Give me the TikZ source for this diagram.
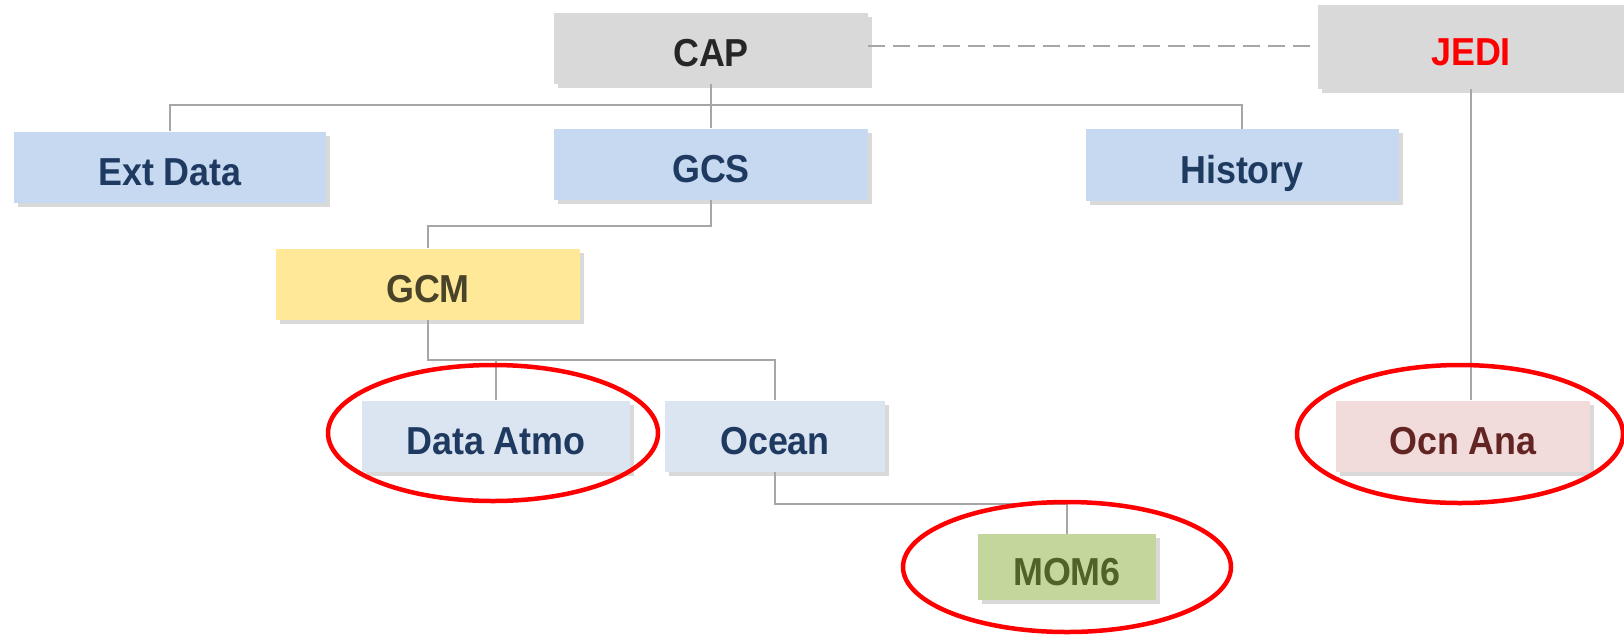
\documentclass[tikz,border=0pt]{standalone}
\usepackage{fontspec}
\setmainfont[FakeStretch=0.92]{Liberation Sans}
\usepackage{tikz}
\usetikzlibrary{shadows}

\definecolor{capgray}{HTML}{D9D9D9}
\definecolor{compblue}{HTML}{C6D9F0}
\definecolor{paleblue}{HTML}{DBE5F1}
\definecolor{gcmyellow}{HTML}{FFE999}
\definecolor{momgreen}{HTML}{C3D69B}
\definecolor{anapink}{HTML}{F2DCDB}
\definecolor{navytext}{HTML}{1F3A60}
\definecolor{olivetext}{HTML}{494429}
\definecolor{greentext}{HTML}{4F6228}
\definecolor{browntext}{HTML}{632523}
\definecolor{linegray}{HTML}{A6A6A6}

\tikzset{
  box/.style={rectangle, inner sep=0pt, text=navytext,
    text height=36pt, text depth=0pt,
    font=\fontsize{39}{42}\selectfont\bfseries,
    drop shadow={shadow xshift=4pt, shadow yshift=-4pt, fill=black!25, opacity=.6}},
  conn/.style={draw=linegray, line width=2pt},
  ring/.style={draw=red, line width=4.5pt}
}

\begin{document}
\begin{tikzpicture}[x=1pt, y=-1pt]
  \useasboundingbox (0,0) rectangle (1624,641);

  % top row
  \node[box, fill=capgray, text=black!85, minimum width=314, minimum height=71] (cap) at (711,48) {CAP};
  \node[box, fill=capgray, text=red, minimum width=306, minimum height=84] (jedi) at (1471,47) {JEDI};

  % second row
  \node[box, fill=compblue, minimum width=312, minimum height=71] (extdata) at (170,167) {Ext Data};
  \node[box, fill=compblue, minimum width=314, minimum height=71] (gcs) at (711,164) {GCS};
  \node[box, fill=compblue, minimum width=313, minimum height=72] (history) at (1242,165) {History};

  \node[box, fill=gcmyellow, text=olivetext, minimum width=304, minimum height=71] (gcm) at (428,284) {GCM};

  % components
  \node[box, fill=paleblue, minimum width=268, minimum height=71] (datmo) at (496,436) {Data Atmo};
  \node[box, fill=paleblue, minimum width=220, minimum height=71] (ocean) at (775,436) {Ocean};
  \node[box, fill=momgreen, text=greentext, minimum width=178, minimum height=66] (mom6) at (1067,567) {MOM6};
  \node[box, fill=anapink, text=browntext, minimum width=254, minimum height=71] (ocnana) at (1463,436) {Ocn Ana};

  % connectors
  \draw[conn, line width=2.6pt, dash pattern=on 17pt off 8pt] (cap.east |- 0,46) -- (jedi.west |- 0,46);
  \draw[conn] (cap.south) -- (gcs.north);
  \draw[conn] (extdata.north) -- ++(0,-26) -| (history.north);
  \draw[conn] (gcs.south) -- ++(0,26) -| (gcm.north);
  \draw[conn] (gcm.south) -- ++(0,40) coordinate (gbar) -| (ocean.north);
  \draw[conn] (datmo.north |- gbar) -- (datmo.north);
  \draw[conn] (ocean.south) -- ++(0,32) -| (mom6.north);
  \draw[conn] (jedi.south) -- (jedi.south |- ocnana.north);

  % highlights
  \draw[ring] (493,433) ellipse [x radius=165, y radius=68];
  \draw[ring] (1067,567) ellipse [x radius=164, y radius=65];
  \draw[ring] (1460,434) ellipse [x radius=163, y radius=69];
\end{tikzpicture}
\end{document}
